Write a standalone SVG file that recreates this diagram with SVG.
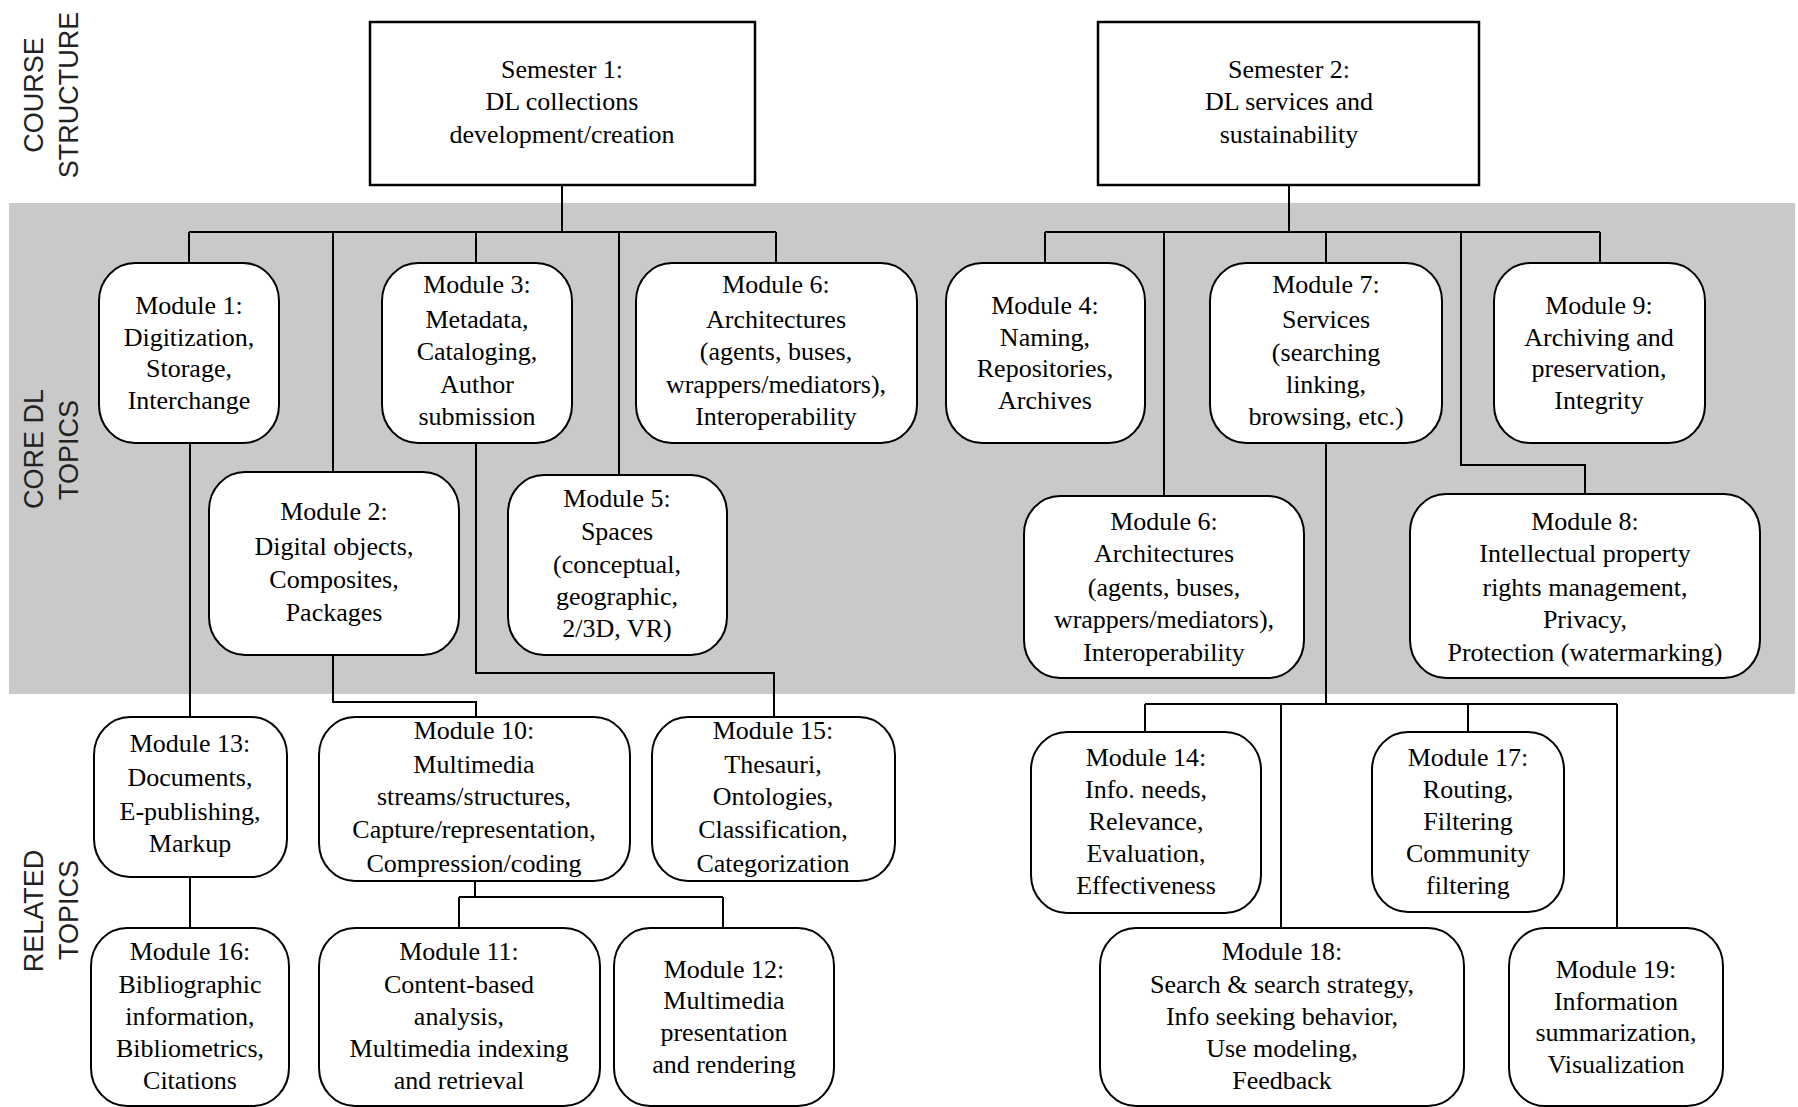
<svg xmlns="http://www.w3.org/2000/svg" width="1798" height="1107" viewBox="0 0 1798 1107">
<style>
.bg{fill:#ffffff}
.band{fill:#c9c9c9}
.sem{fill:#ffffff;stroke:#000;stroke-width:2.5}
.mod{fill:#ffffff;stroke:#000;stroke-width:2}
.con{fill:none;stroke:#000;stroke-width:2}
.t{font-family:"Liberation Serif","Times New Roman",serif;font-size:26px;fill:#000;text-anchor:middle}
.side{font-family:"Liberation Sans",Arial,sans-serif;font-size:27px;fill:#222;text-anchor:middle}
</style>
<rect class="bg" x="0" y="0" width="1798" height="1107"/>
<rect class="band" x="9" y="203" width="1786" height="491"/>

<g id="side-labels">
<text class="side" transform="translate(43,95) rotate(-90)">COURSE</text>
<text class="side" transform="translate(78,95) rotate(-90)">STRUCTURE</text>
<text class="side" transform="translate(43,449) rotate(-90)">CORE DL</text>
<text class="side" transform="translate(78,450) rotate(-90)">TOPICS</text>
<text class="side" transform="translate(43,911) rotate(-90)">RELATED</text>
<text class="side" transform="translate(78,910) rotate(-90)">TOPICS</text>
</g>

<g id="connectors">
<path class="con" d="M562,185 V232 M189,232 H776 M189,232 V263 M333,232 V472 M476,232 V263 M619,232 V475 M776,232 V263"/>
<path class="con" d="M1289,185 V232 M1045,232 H1600 M1045,232 V263 M1164,232 V496 M1326,232 V263 M1461,232 V465 H1585 V494 M1600,232 V263"/>
<path class="con" d="M190,443 V717 M333,655 V702 H476 V717 M476,443 V673 H774 V717 M190,877 V928"/>
<path class="con" d="M475,881 V897 M459,897 H723 M459,897 V928 M723,897 V928"/>
<path class="con" d="M1326,443 V704 M1145,704 H1617 M1145,704 V732 M1281,704 V928 M1468,704 V732 M1617,704 V928"/>
</g>

<g id="sem1"><rect class="sem" x="370" y="22" width="385" height="163"/>
<text class="t"><tspan x="562" y="78">Semester 1:</tspan><tspan x="562" y="110">DL collections</tspan><tspan x="562" y="143">development/creation</tspan></text></g>
<g id="sem2"><rect class="sem" x="1098" y="22" width="381" height="163"/>
<text class="t"><tspan x="1289" y="78">Semester 2:</tspan><tspan x="1289" y="110">DL services and</tspan><tspan x="1289" y="143">sustainability</tspan></text></g>

<g id="m1"><rect class="mod" x="99" y="263" width="180" height="180" rx="36" ry="38"/>
<text class="t"><tspan x="189" y="314">Module 1:</tspan><tspan x="189" y="346">Digitization,</tspan><tspan x="189" y="377">Storage,</tspan><tspan x="189" y="409">Interchange</tspan></text></g>
<g id="m3"><rect class="mod" x="382" y="263" width="190" height="180" rx="36" ry="38"/>
<text class="t"><tspan x="477" y="293">Module 3:</tspan><tspan x="477" y="328">Metadata,</tspan><tspan x="477" y="360">Cataloging,</tspan><tspan x="477" y="393">Author</tspan><tspan x="477" y="425">submission</tspan></text></g>
<g id="m6a"><rect class="mod" x="636" y="263" width="281" height="180" rx="36" ry="38"/>
<text class="t"><tspan x="776" y="293">Module 6:</tspan><tspan x="776" y="328">Architectures</tspan><tspan x="776" y="360">(agents, buses,</tspan><tspan x="776" y="393">wrappers/mediators),</tspan><tspan x="776" y="425">Interoperability</tspan></text></g>
<g id="m4"><rect class="mod" x="946" y="263" width="199" height="180" rx="36" ry="38"/>
<text class="t"><tspan x="1045" y="314">Module 4:</tspan><tspan x="1045" y="346">Naming,</tspan><tspan x="1045" y="377">Repositories,</tspan><tspan x="1045" y="409">Archives</tspan></text></g>
<g id="m7"><rect class="mod" x="1210" y="263" width="232" height="180" rx="36" ry="38"/>
<text class="t"><tspan x="1326" y="293">Module 7:</tspan><tspan x="1326" y="328">Services</tspan><tspan x="1326" y="361">(searching</tspan><tspan x="1326" y="393">linking,</tspan><tspan x="1326" y="425">browsing, etc.)</tspan></text></g>
<g id="m9"><rect class="mod" x="1494" y="263" width="211" height="180" rx="36" ry="38"/>
<text class="t"><tspan x="1599" y="314">Module 9:</tspan><tspan x="1599" y="346">Archiving and</tspan><tspan x="1599" y="377">preservation,</tspan><tspan x="1599" y="409">Integrity</tspan></text></g>
<g id="m2"><rect class="mod" x="209" y="472" width="250" height="183" rx="36" ry="38"/>
<text class="t"><tspan x="334" y="520">Module 2:</tspan><tspan x="334" y="555">Digital objects,</tspan><tspan x="334" y="588">Composites,</tspan><tspan x="334" y="621">Packages</tspan></text></g>
<g id="m5"><rect class="mod" x="508" y="475" width="219" height="180" rx="36" ry="38"/>
<text class="t"><tspan x="617" y="507">Module 5:</tspan><tspan x="617" y="540">Spaces</tspan><tspan x="617" y="573">(conceptual,</tspan><tspan x="617" y="605">geographic,</tspan><tspan x="617" y="637">2/3D, VR)</tspan></text></g>
<g id="m6b"><rect class="mod" x="1024" y="496" width="280" height="182" rx="36" ry="38"/>
<text class="t"><tspan x="1164" y="530">Module 6:</tspan><tspan x="1164" y="562">Architectures</tspan><tspan x="1164" y="596">(agents, buses,</tspan><tspan x="1164" y="628">wrappers/mediators),</tspan><tspan x="1164" y="661">Interoperability</tspan></text></g>
<g id="m8"><rect class="mod" x="1410" y="494" width="350" height="184" rx="36" ry="38"/>
<text class="t"><tspan x="1585" y="530">Module 8:</tspan><tspan x="1585" y="562">Intellectual property</tspan><tspan x="1585" y="596">rights management,</tspan><tspan x="1585" y="628">Privacy,</tspan><tspan x="1585" y="661">Protection (watermarking)</tspan></text></g>
<g id="m13"><rect class="mod" x="94" y="717" width="193" height="160" rx="36" ry="38"/>
<text class="t"><tspan x="190" y="752">Module 13:</tspan><tspan x="190" y="786">Documents,</tspan><tspan x="190" y="820">E-publishing,</tspan><tspan x="190" y="852">Markup</tspan></text></g>
<g id="m10"><rect class="mod" x="319" y="717" width="311" height="164" rx="36" ry="38"/>
<text class="t"><tspan x="474" y="739">Module 10:</tspan><tspan x="474" y="773">Multimedia</tspan><tspan x="474" y="805">streams/structures,</tspan><tspan x="474" y="838">Capture/representation,</tspan><tspan x="474" y="872">Compression/coding</tspan></text></g>
<g id="m15"><rect class="mod" x="652" y="717" width="243" height="164" rx="36" ry="38"/>
<text class="t"><tspan x="773" y="739">Module 15:</tspan><tspan x="773" y="773">Thesauri,</tspan><tspan x="773" y="805">Ontologies,</tspan><tspan x="773" y="838">Classification,</tspan><tspan x="773" y="872">Categorization</tspan></text></g>
<g id="m14"><rect class="mod" x="1031" y="732" width="230" height="181" rx="36" ry="38"/>
<text class="t"><tspan x="1146" y="766">Module 14:</tspan><tspan x="1146" y="798">Info. needs,</tspan><tspan x="1146" y="830">Relevance,</tspan><tspan x="1146" y="862">Evaluation,</tspan><tspan x="1146" y="894">Effectiveness</tspan></text></g>
<g id="m17"><rect class="mod" x="1372" y="732" width="192" height="180" rx="36" ry="38"/>
<text class="t"><tspan x="1468" y="766">Module 17:</tspan><tspan x="1468" y="798">Routing,</tspan><tspan x="1468" y="830">Filtering</tspan><tspan x="1468" y="862">Community</tspan><tspan x="1468" y="894">filtering</tspan></text></g>
<g id="m16"><rect class="mod" x="91" y="928" width="198" height="178" rx="36" ry="38"/>
<text class="t"><tspan x="190" y="960">Module 16:</tspan><tspan x="190" y="993">Bibliographic</tspan><tspan x="190" y="1025">information,</tspan><tspan x="190" y="1057">Bibliometrics,</tspan><tspan x="190" y="1089">Citations</tspan></text></g>
<g id="m11"><rect class="mod" x="319" y="928" width="281" height="178" rx="36" ry="38"/>
<text class="t"><tspan x="459" y="960">Module 11:</tspan><tspan x="459" y="993">Content-based</tspan><tspan x="459" y="1025">analysis,</tspan><tspan x="459" y="1057">Multimedia indexing</tspan><tspan x="459" y="1089">and retrieval</tspan></text></g>
<g id="m12"><rect class="mod" x="614" y="928" width="220" height="178" rx="36" ry="38"/>
<text class="t"><tspan x="724" y="978">Module 12:</tspan><tspan x="724" y="1009">Multimedia</tspan><tspan x="724" y="1041">presentation</tspan><tspan x="724" y="1073">and rendering</tspan></text></g>
<g id="m18"><rect class="mod" x="1100" y="928" width="364" height="178" rx="36" ry="38"/>
<text class="t"><tspan x="1282" y="960">Module 18:</tspan><tspan x="1282" y="993">Search &amp; search strategy,</tspan><tspan x="1282" y="1025">Info seeking behavior,</tspan><tspan x="1282" y="1057">Use modeling,</tspan><tspan x="1282" y="1089">Feedback</tspan></text></g>
<g id="m19"><rect class="mod" x="1509" y="928" width="214" height="178" rx="36" ry="38"/>
<text class="t"><tspan x="1616" y="978">Module 19:</tspan><tspan x="1616" y="1010">Information</tspan><tspan x="1616" y="1041">summarization,</tspan><tspan x="1616" y="1073">Visualization</tspan></text></g>
</svg>
